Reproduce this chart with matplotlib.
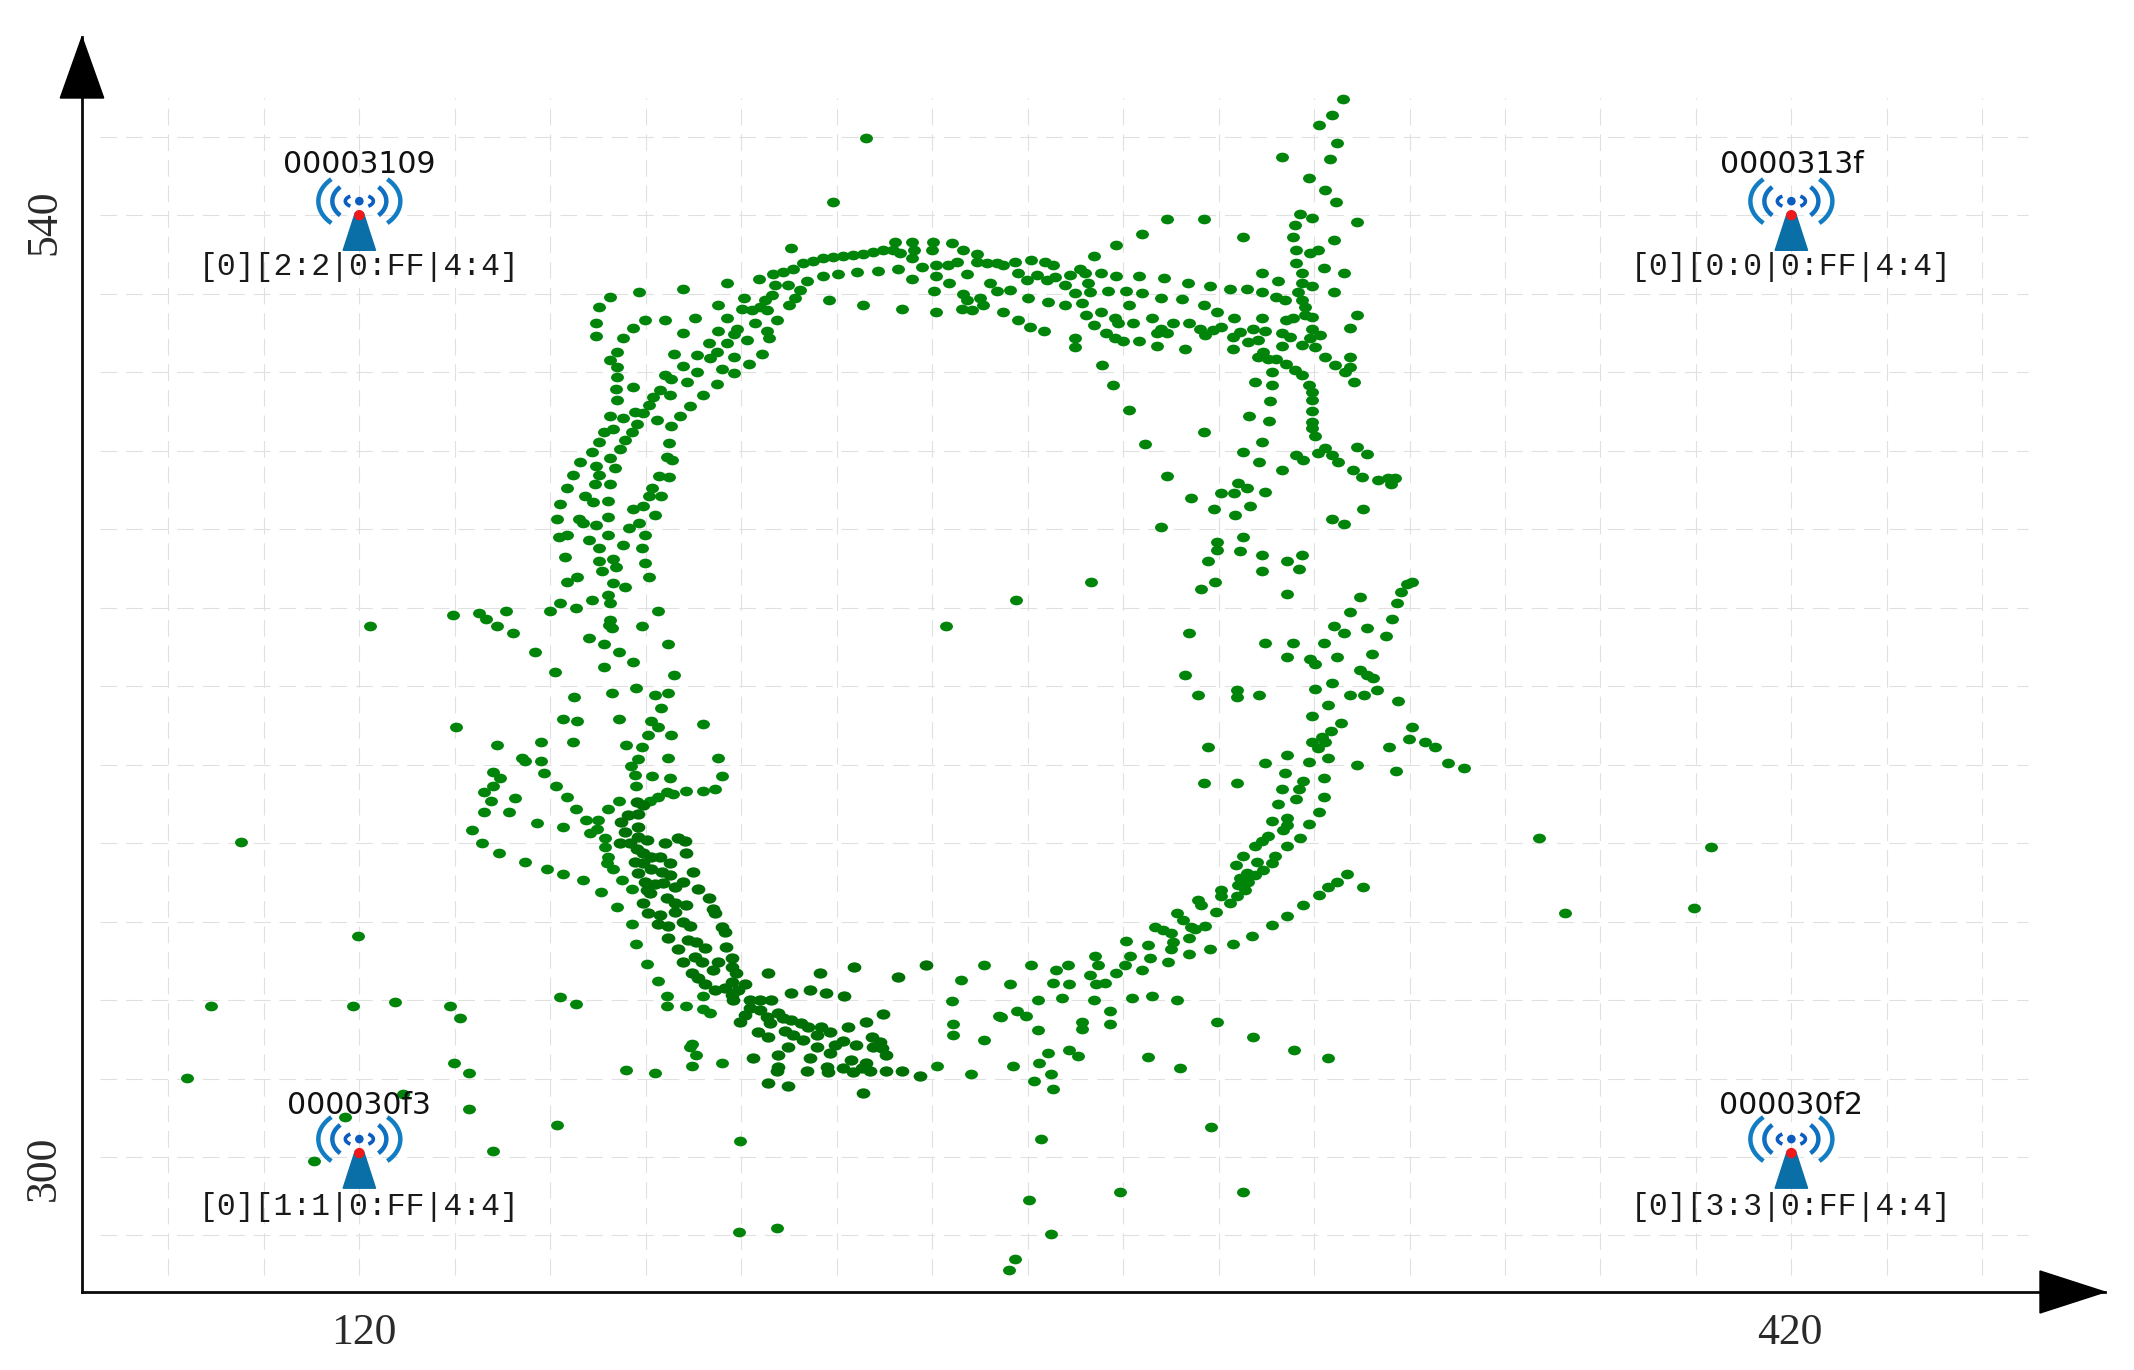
import numpy as np
import matplotlib
matplotlib.use("Agg")
import matplotlib.pyplot as plt
from matplotlib.markers import MarkerStyle
from matplotlib.patches import Polygon, Circle
from matplotlib.transforms import Affine2D, ScaledTranslation

x_tick_values = [120, 420]
y_tick_values = [300, 540]
grid_x = list(range(80, 461, 20))
grid_y = list(range(280, 561, 20))

stations = ["00003109", "0000313f", "000030f3", "000030f2"]
configs = ["[0][2:2|0:FF|4:4]", "[0][0:0|0:FF|4:4]", "[0][1:1|0:FF|4:4]", "[0][3:3|0:FF|4:4]"]
station_x = [120, 420, 120, 420]
station_y = [540, 540, 301, 301]
label_y = [539.8, 539.8, 300.2, 300.2]

north_arc = [(210.4,531.7),(206.7,525.1),(208.8,525.5),(210.9,526.4),(213.0,527.7),(215.1,528.3),(217.2,529.0),(219.3,529.4),(221.4,529.5),(223.5,529.8),(225.6,530.2),(227.7,530.6),(229.8,531.1),(231.9,531.1),(233.3,530.4),
(232.2,533.2),(235.7,533.2),(236.1,531.1),(235.7,529.0),(240.2,533.2),(239.9,531.1),(240.9,527.2),(237.8,526.8),(244.1,532.8),(246.5,531.1),(245.1,528.1),(243.4,527.2),(249.3,530.2),(249.3,528.1),(251.4,527.7),(253.5,527.7),
(232.9,526.4),(228.7,525.7),(224.2,525.5),(220.2,525.0),(217.1,524.4),(213.7,523.2),(235.7,523.8),(240.9,524.4),(247.2,525.1),(243.6,522.6),(240.4,520.6),(252.1,522.6),(253.5,520.7),(246.5,519.9),(247.2,518.3),(250.0,518.8),(250.7,517.1),(246.2,516.0),(248.3,515.8),(240.9,515.3),(233.6,516.0),(225.6,517.0),(218.4,518.5),
(219.2,543.4),(226.2,559.7)]

northwest_arc = [(209.9,522.2),(212.3,520.9),(211.3,518.8),(210.1,517.0),(207.1,522.2),(206.4,519.6),(205.0,518.3),(203.9,516.6),(202.2,515.8),(200.1,516.0),(205.3,515.8),(200.5,519.0),(203.7,523.8),(197.0,522.6),(195.2,517.0),
(207.4,513.4),(202.9,512.4),(205.3,510.5),(205.9,508.8),(201.2,508.3),(204.4,504.6),(201.6,502.0),(198.4,499.7),(195.9,500.8),(194.9,497.1),
(197.0,513.7),(199.1,511.1),(198.4,509.8),(195.2,510.5),(197.0,507.3),(193.3,507.3),(194.9,505.2),(193.5,503.5),(198.5,503.9),(190.7,504.3),(190.7,500.1),(187.8,501.6),(186.0,504.7),(187.9,510.0),(190.3,513.8),(184.1,513.4),(179.9,513.4),(177.3,511.3),(175.3,508.7),(187.9,521.1),(178.5,520.5),(172.5,519.1),(170.2,516.6),(169.5,512.6),(169.5,509.2),
(173.9,505.2),(172.5,503.2),(173.9,501.3),(173.9,498.8),(173.8,495.6),(177.3,496.1),(173.9,492.9),(188.7,497.4),(184.1,499.2),(185.2,498.2),(191.9,494.3),(189.3,491.4),(187.2,488.9),(185.2,486.2),
(185.1,494.1),(183.0,495.4),(181.6,493.7),(180.6,491.6),(179.5,489.5),(182.3,487.8),(177.8,489.9),(178.1,486.9),(177.1,484.8),(175.7,482.7),(174.6,480.5),(172.5,478.0),(173.6,475.6),(175.3,488.2),(172.5,488.9),(173.2,485.6),(171.3,484.8),(170.3,482.2),(168.7,479.7),(166.3,477.0),(169.5,476.1),(170.3,473.8),(169.4,471.6),(172.5,471.6),(164.7,473.7),(163.5,470.4),(167.3,468.4),(168.9,467.0),(172.0,467.1),(184.8,482.0),(184.4,478.3),(185.4,477.6),(182.7,473.6),(184.8,473.2),(181.3,470.4),(180.6,468.4),(183.2,468.4)]

west_arc = [(162.1,466.5),(161.5,462.5),(166.1,462.7),(166.9,461.6),(169.5,461.0),(172.0,463.1),(172.0,458.5),(163.5,458.5),(161.9,457.9),(168.2,457.2),(170.3,455.2),(175.3,455.9),(163.1,453.0),(170.2,451.9),(170.8,449.3),(173.2,452.5),(173.7,450.4),(165.6,447.9),(163.5,446.6),(173.2,446.2),(175.7,445.3),(162.1,441.2),(160.0,439.2),(165.4,440.0),(168.8,441.9),(172.0,443.2),(172.5,441.1),(172.5,436.8),(172.2,435.6),(172.9,434.7),(179.3,435.3),(182.5,439.2),(184.6,430.7),(168.1,432.2),(171.3,430.7),(174.5,428.8),(177.3,426.2),(171.3,424.8),(185.9,422.8),(156.7,428.8),(160.9,423.6),(152.1,433.4),(150.8,439.2),
(177.4,465.0),(179.4,465.9),(182.0,463.7),(178.5,461.6),(176.4,460.4),(179.9,458.5),(179.3,455.2),(179.9,451.4),(180.6,447.9),(242.9,435.3),(164.9,417.3),(173.0,418.2),(177.9,419.6),(182.0,417.7),(184.6,418.3),
(145.1,438.7),(139.6,438.1),(146.5,437.1),(148.8,435.3)]

northeast_arc = [(326.1,569.7),(323.7,565.5),(321.0,563.0),(324.9,558.3),(313.2,554.9),(323.3,554.2),(318.9,549.5),(322.3,546.4),(324.7,543.4),(328.9,538.3),(317.0,540.4),(319.5,539.2),(316.0,537.5),(315.6,534.5),(324.2,533.6),(316.3,531.1),(320.9,531.1),(319.1,530.3),(316.3,527.9),(322.1,526.6),(326.2,525.2),(317.4,525.2),(317.4,522.6),(319.5,522.0),(316.7,520.5),(324.2,520.5),(317.4,518.4),(318.1,516.7),(328.9,514.5),(327.5,511.3),(315.6,513.7),(314.2,513.3),(318.1,514.5),(319.5,514.1),(319.5,511.1),(321.2,509.4),(319.1,508.6),(317.4,506.9),(320.2,506.5),(322.3,503.9),(324.3,501.8),(326.4,500.1),(327.6,503.9),(327.5,501.4),(328.3,497.4),
(314.2,502.2),(316.0,500.5),(317.4,499.3),(319.0,496.7),(319.6,495.0),(319.6,492.9),(319.6,490.2),(319.6,487.4),(319.6,485.7),(320.2,483.6),(311.1,500.1),(307.7,497.4),(311.2,496.7),(310.7,492.7),(306.4,488.8),(310.5,487.6),(309.2,482.3),(305.2,479.7),(308.4,477.0),(313.2,475.1),(297.0,484.8),(284.6,481.7),(281.2,490.3),(277.9,496.7),(275.5,501.8),(289.3,473.6),(316.3,478.9),(317.7,477.6),(320.9,479.3),(322.3,480.6),(323.7,478.9),(325.0,477.2),(328.9,481.0),(331.0,479.1),(328.2,475.1),(330.0,473.4),(333.4,472.5),(335.5,473.0),(336.9,473.0),(336.2,471.5),(330.3,465.1),(323.7,462.5),(326.2,461.2),
(304.1,471.7),(305.9,470.4),(300.5,469.1),(303.3,469.1),(309.8,469.5),(294.3,467.9),(299.1,465.1),(306.6,465.9),(303.4,463.6),(287.9,460.6),(305.2,458.1),(299.7,456.8),(299.7,454.7),(304.5,454.5),(309.2,453.4),(317.5,453.4),(314.4,451.9),(316.9,449.8),(309.2,449.3),(297.7,451.9)]

north_band = [(284.0,535.1),(289.3,539.0),(297.0,539.0),(305.2,534.5),(278.5,532.4),(274.0,529.7),
(254.9,527.3),(257.3,528.1),(260.8,528.6),(263.6,528.1),(265.4,527.3),(258.0,525.2),(259.8,523.5),(261.9,524.7),(264.0,523.5),(265.7,524.3),(268.9,524.7),(267.8,522.2),(269.9,520.1),(271.3,517.5),(272.3,514.5),(270.9,526.4),(272.0,525.2),(272.7,522.6),(273.0,520.5),
(256.3,520.9),(260.1,519.0),(264.2,517.9),(267.8,517.1),(254.9,515.2),(258.0,513.3),(260.5,511.4),(263.4,510.6),(269.9,508.6),(269.9,506.5),
(275.4,525.2),(278.6,524.6),(283.3,524.6),(288.6,523.9),(293.6,522.6),(298.3,521.9),(302.4,521.1),(305.9,521.1),(309.1,520.5),(309.1,525.2),(312.5,523.2),(312.1,519.2),(313.9,518.5),
(276.9,520.7),(280.6,520.7),(284.0,520.1),(287.9,519.0),(292.4,518.6),(297.0,517.1),(299.7,515.2),(303.2,513.9),(309.1,513.9),(281.2,517.1),
(275.3,515.2),(278.3,513.7),(279.0,512.6),(282.0,512.6),(286.0,513.9),(290.4,512.6),(293.8,512.6),(296.1,511.1),(287.9,510.9),(287.0,510.1),(289.1,510.1),(297.1,509.5),(298.9,510.7),(300.5,511.4),(274.0,512.0),(276.5,509.9),(278.3,508.8),(279.9,507.9),(283.3,507.9),(287.2,506.7),(293.0,506.0),(303.1,506.0),
(303.1,508.9),(304.5,510.3),(306.2,507.8),(307.3,511.1),(308.3,508.2),(309.8,510.6),(313.2,509.9),(314.9,508.9),(313.2,506.7),(309.3,505.2),(308.3,503.9),(312.1,503.4),(310.4,503.4)]

southeast_arc = [(273.2,446.6),(257.5,441.9),(299.2,446.6),(296.3,444.7),(314.4,443.4),(340.5,446.4),(339.4,445.9),(338.2,443.9),(337.4,441.2),(329.6,442.8),(327.5,438.8),(336.4,437.2),(324.2,435.4),(326.3,433.4),(331.0,434.7),(335.0,432.7),(293.8,433.4),(309.8,430.9),(315.6,430.9),(322.1,430.9),(314.4,427.5),(324.9,427.5),(332.2,428.2),(319.1,426.9),(320.2,425.6),(292.9,422.8),(329.6,424.1),(331.0,422.8),(332.4,422.1),(323.7,420.9),(320.2,419.2),(333.1,419.0),(327.6,417.7),(330.4,417.7),(295.7,417.7),(303.8,419.0),(303.8,417.1),(308.4,417.7),(337.5,416.3),(323.0,415.1),(319.5,412.5),(325.6,410.5),(340.6,409.6),(323.5,408.5),(321.6,407.1),(319.5,405.7),(322.3,405.7),(320.9,404.1),(339.9,406.4),(343.3,405.8),(345.4,404.6),(335.7,404.6),(297.7,404.6),(323.0,401.8),(314.4,402.4),(318.9,400.7),(309.8,400.5),(348.1,400.5),(351.4,399.0),(328.9,399.9),(337.1,398.4),(313.9,397.9),(317.6,395.9),(322.1,396.5),(316.9,393.9),(313.2,393.9),(297.0,395.2),(303.8,395.2),(316.2,391.3),(322.1,391.8),(312.5,389.9),(321.0,387.9),(314.4,386.3),(311.1,385.5),(314.4,384.6),(313.4,383.3),(318.9,384.8),(310.4,381.8),(309.0,380.4),(307.6,379.3),(317.0,381.4),(314.4,379.3),(305.2,376.8),(308.0,375.3),(303.6,374.3),(311.8,376.7),(311.1,374.8),(309.3,373.1),(307.6,371.9),(305.9,372.3),(304.5,371.0),(306.2,370.2),(304.1,369.3),(305.5,368.0),(300.5,368.0),(300.6,366.4),(303.8,366.4),(302.4,364.7),(299.4,362.4),(295.7,365.5),(296.4,364.2),(291.2,362.1),(292.6,360.4),(294.3,358.7),(297.1,358.9),(295.0,358.0)]

south_arc = [(286.7,358.5),(288.4,357.9),(290.1,357.0),(290.5,354.9),(290.0,353.0),(293.8,355.7),(285.3,354.0),(280.6,355.1),(285.6,350.8),(293.8,351.7),(298.3,353.0),(303.1,354.3),(307.1,356.3),(311.1,359.0),(314.4,361.5),(317.6,364.2),(321.0,366.8),(322.9,368.7),(324.8,370.2),(326.9,372.1),(330.3,368.7),
(274.1,351.1),(274.8,349.0),(273.0,346.4),(281.4,351.1),(280.4,349.0),(278.6,347.0),(284.0,347.7),(289.4,349.6),(274.4,344.1),(276.2,344.4),(268.5,349.0),(265.9,347.7),(260.7,348.9),(265.4,344.4),(268.6,344.0),(256.3,344.1),(267.3,340.5),(262.2,339.9),(273.9,339.9),(281.9,340.5),(286.0,341.0),(291.2,339.9),(277.2,337.3),(277.2,333.9),(271.3,334.5),(271.3,332.6),(257.7,337.1),(259.6,336.0),(262.2,332.4),(254.4,335.8),(299.7,334.5),(307.2,330.5),
(246.1,345.0),(250.8,349.0),(244.1,339.8),(254.1,335.9),(250.8,329.9),(244.3,333.9),(244.3,331.1),(248.1,321.2),(241.1,323.3),(256.9,323.3),(262.3,324.0),(264.9,321.2),(261.4,319.3),(265.4,317.3),(264.2,326.6),(268.6,327.2),(270.6,325.8),(285.3,325.4),(291.9,322.8),(315.7,327.2),(323.0,325.3)]

southwest_branches = [(140.3,409.5),(148.8,404.9),(158.0,405.7),(164.7,405.7),(162.7,411.6),(165.5,411.0),(174.4,411.6),(181.2,411.1),(182.5,409.6),(180.5,407.5),(183.2,414.3),(185.3,407.5),(191.9,410.4),(175.8,404.9),(179.3,404.4),(184.6,401.7),(195.2,401.7),(195.9,397.0),(178.4,401.5),(177.0,399.6),(177.7,397.3),(181.4,397.0),(185.1,396.5),(178.0,394.5),(194.5,393.9),(192.0,393.2),(188.5,393.2),(185.8,392.6),(184.4,393.1),(182.6,391.8),(180.9,390.8),
(154.0,401.7),(154.7,401.0),(158.0,401.0),(158.7,397.9),(148.1,398.2),(149.5,396.5),(148.1,394.5),(146.1,393.1),(147.6,390.7),(152.7,391.4),(146.2,387.9),(151.3,387.9),(161.3,394.5),(163.6,391.8),(165.4,388.6),(167.4,386.0),(157.3,385.2),(162.7,384.1),(143.7,383.3),(145.6,380.1),(149.3,377.4),(154.8,375.2),(159.4,373.3),(162.7,372.1),(166.8,370.7),
(174.4,390.7),(172.0,388.6),(170.0,385.8),(169.7,383.7),(168.3,382.6),(171.4,381.2),(171.4,379.0),(172.1,376.5),(171.8,375.0),(173.2,373.3),(175.1,370.7),(177.2,368.2),(170.6,367.5),(173.9,363.6),(177.2,359.5),(177.9,354.2),(180.2,349.3),(182.6,344.8),(184.5,341.0),(184.5,338.5),(188.5,338.5),(192.0,341.0),(192.0,337.6),(193.4,336.6)]

southwest_core = [(178.1,390.5),(179.5,389.7),(178.4,387.5),(176.3,387.1),(174.9,385.4),(175.6,382.9),(174.6,379.9),(176.7,379.9),(178.4,384.1),(178.4,381.6),(180.2,380.7),(178.1,378.6),(179.5,377.4),(177.7,375.2),(179.5,374.8),(181.2,376.5),(183.0,376.5),(181.2,373.5),(183.3,372.7),(178.4,372.3),(185.1,374.8),(185.1,371.8),(183.7,369.7),(186.1,368.9),(181.9,369.5),(179.8,370.1),(180.2,368.0),(187.9,370.1),(184.0,379.9),(186.8,381.3),(188.2,380.6),(188.5,377.4),(189.9,372.7),(191.0,368.4),(193.3,366.1),(194.1,363.3),(194.5,362.1),(195.9,358.7),(196.6,357.4),(196.9,353.6),
(179.5,364.8),(180.9,367.2),(180.5,362.3),(184.4,366.1),(186.1,364.6),(188.5,364.2),(186.1,362.5),(183.0,361.6),(182.6,359.5),(184.7,358.8),(187.9,359.9),(189.2,358.8),(184.7,355.7),(188.9,355.4),(190.6,354.9),(192.4,353.2),(186.8,353.0),(190.3,351.0),(191.7,349.8),(187.8,349.6),(195.2,349.6),(194.1,347.6),(189.6,347.0),(191.0,345.5),(192.4,344.1),(194.5,342.5)]

south_core = [(198.0,350.6),(198.0,348.5),(199.0,346.8),(200.8,344.2),(198.0,344.7),(196.6,343.0),(198.0,341.3),(199.4,342.5),(198.3,340.0),
(201.8,340.0),(203.9,340.0),(206.3,340.0),(201.8,337.9),(203.9,337.4),(200.8,336.2),(199.7,334.5),(205.3,335.8),(207.7,336.6),(208.8,335.3),(206.0,334.1),(203.6,331.9),(205.6,330.7),(210.5,334.9),(212.6,334.1),(214.0,333.2),(209.1,332.1),(210.9,331.1),(213.0,329.8),(209.8,328.1),(216.8,333.2),(218.6,331.9),(215.8,331.1),(215.8,328.1),(221.4,329.6),(219.6,328.5),(218.6,326.4),(222.3,333.2),(224.1,328.5),(226.1,334.5),(229.6,336.4),(227.3,330.5),(229.0,329.4),(227.6,328.1),(229.4,327.7),(230.3,326.0),(205.6,347.0),(210.4,341.9),(214.4,342.5),(217.7,341.9),(221.5,341.0),(216.5,347.0),(223.6,348.5),(232.9,345.8),(238.8,348.9),
(202.4,325.3),(207.7,326.0),(214.4,325.3),(207.7,323.0),(207.4,322.0),(213.8,322.0),(217.9,323.0),(218.2,321.7),(222.9,324.7),(221.4,322.8),(223.4,321.7),(225.2,322.6),(226.2,323.9),(226.9,322.0),(230.3,322.0),(233.6,322.0),(237.5,320.7),(205.6,318.8),(209.7,318.1),(225.5,316.2)]

outliers = [(189.6,328.9),(189.2,328.1),(190.6,326.0),(189.6,323.3),(195.9,323.9),(181.9,321.3),(175.8,322.2),(199.7,304.2),(161.5,308.2),(162.0,340.8),(165.4,339.0),(139.0,338.5),(141.0,335.3),(139.8,323.9),(143.0,321.3),(143.0,312.2),(148.1,301.6),
(122.2,435.3),(95.2,380.3),(119.7,356.3),(118.6,338.5),(127.4,339.5),(88.9,338.5),(83.8,320.1),(129.1,316.0),(117.0,310.2),(110.4,299.0),(199.5,280.9),(207.5,281.9),
(262.9,304.6),(298.4,307.6),(279.4,291.0),(305.1,291.0),(260.2,289.0),(264.9,280.4),(257.4,273.9),(256.1,271.2),
(367.2,381.3),(372.6,362.2),(399.6,363.4),(403.2,379.1)]

point_groups = [north_arc, northwest_arc, west_arc, northeast_arc, north_band, southeast_arc,
                south_arc, southwest_branches, outliers]
dense_groups = [southwest_core, south_core]

W, H = 2134, 1370
fig = plt.figure(figsize=(W / 100, H / 100), dpi=100, facecolor="white")
left, right, top, bottom = 82, 2105, 37, 1292
ax = fig.add_axes([left / W, 1 - bottom / H, (right - left) / W, (bottom - top) / H])
ax.set_xlim(61.9, 485.7)
ax.set_ylim(265.6, 585.4)
for s in ("top", "right"):
    ax.spines[s].set_visible(False)
for s in ("left", "bottom"):
    ax.spines[s].set_linewidth(2.0)
    ax.spines[s].set_color("#0a0a0a")

dash = (0, (15, 8))
ax.vlines(grid_x, 270, 569.8, colors="#e0e0e0", linewidth=0.8, linestyles=dash, zorder=1)
ax.hlines(grid_y, 65.7, 469.6, colors="#e0e0e0", linewidth=0.8, linestyles=dash, zorder=1)

marker = MarkerStyle("o", transform=Affine2D().scale(1.2, 0.9))
for group in point_groups:
    pts = np.array(group)
    ax.scatter(pts[:, 0], pts[:, 1], s=60, marker=marker, color="#008409", linewidths=0, zorder=3)
for group in dense_groups:
    pts = np.array(group)
    ax.scatter(pts[:, 0], pts[:, 1], s=68, marker=marker, color="#007006", linewidths=0, zorder=3)

ax.set_xticks(x_tick_values)
ax.set_yticks(y_tick_values)
ax.tick_params(length=0, pad=15)
ax.tick_params(axis="y", pad=13)
for lab in ax.get_xticklabels():
    lab.set(family="Liberation Serif", fontsize=31.5, color="#2a2a2a")
x_shift = {120: 3, 420: -1}
for lab, val in zip(ax.get_xticklabels(), x_tick_values):
    lab.set_transform(lab.get_transform() + ScaledTranslation(x_shift[val] / 72, 0, fig.dpi_scale_trans))
y_shift = {300: -8, 540: -5}
for lab, val in zip(ax.get_yticklabels(), y_tick_values):
    lab.set(family="Liberation Serif", fontsize=31.5, color="#2a2a2a", rotation=90, va="center")
    lab.set_transform(lab.get_transform() + ScaledTranslation(0, y_shift[val] / 72, fig.dpi_scale_trans))

# axis arrow heads
ax_w, ax_h = right - left, bottom - top
ax.add_patch(Polygon([(-21.7 / ax_w, (bottom - 98) / ax_h), (21.7 / ax_w, (bottom - 98) / ax_h), (0, 1)],
                     closed=True, transform=ax.transAxes, color="black", clip_on=False, zorder=5))
ax.add_patch(Polygon([(1 - 65 / ax_w, 21 / ax_h), (1 - 65 / ax_w, -21 / ax_h), (1, 0)],
                     closed=True, transform=ax.transAxes, color="black", clip_on=False, zorder=5))


def antenna(x0, y0):
    px, py = ax.transData.transform((x0, y0))
    tr = Affine2D().translate(px, py)
    for a, b, deg, col, lw in [(41, 30, 47, "#127dc2", 3.2), (27, 20, 45, "#0f6fc0", 3.2), (14, 6.5, 50, "#0a5cc0", 2.6)]:
        t = np.radians(np.linspace(-deg, deg, 40))
        for sign in (1, -1):
            ax.plot(sign * a * np.cos(t), 14 + b * np.sin(t), color=col, lw=lw, transform=tr,
                    solid_capstyle="butt", clip_on=False, zorder=4)
    ax.add_patch(Polygon([(-16, -35), (16, -35), (4, 2), (-4, 2)], closed=True, transform=tr,
                         facecolor="#0a6fa6", edgecolor="#0a6fa6", linewidth=1.2, joinstyle="round", zorder=4))
    ax.add_patch(Circle((0, 14), 3.6, transform=tr, color="#0a5cc0", zorder=4))
    ax.add_patch(Circle((0, 0), 4.5, transform=tr, color="#f01818", zorder=5))


for name, cfg, sx, sy, ly in zip(stations, configs, station_x, station_y, label_y):
    antenna(sx, sy)
    ax.annotate(name, (sx, ly), xytext=(0, 51 * 0.72), textcoords="offset points", ha="center", va="center",
                family="DejaVu Sans", fontsize=21.5, color="#111111", zorder=6)
    ax.annotate(cfg, (sx, ly), xytext=(0, -51 * 0.72), textcoords="offset points", ha="center", va="center",
                family="Liberation Mono", fontsize=22.6, color="#1a1a1a", zorder=6)

fig.savefig("out.png", dpi=100, facecolor="white")
